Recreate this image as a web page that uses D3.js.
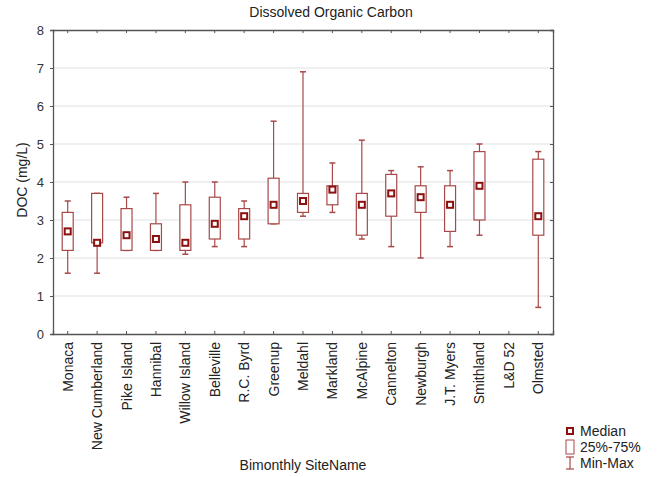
<!DOCTYPE html>
<html>
<head>
<meta charset="utf-8">
<script src="https://cdn.jsdelivr.net/npm/d3@7"></script>
<style>
  html, body { margin: 0; padding: 0; background: #fff; }
  svg { display: block; font-family: "Liberation Sans", Arial, sans-serif; }
</style>
</head>
<body>
<svg id="chart" width="659" height="477"></svg>
<script>
// Bimonthly DOC summary per site (mg/L); null = no samples
const sites = ["Monaca", "New Cumberland", "Pike Island", "Hannibal", "Willow Island",
  "Belleville", "R.C. Byrd", "Greenup", "Meldahl", "Markland", "McAlpine",
  "Cannelton", "Newburgh", "J.T. Myers", "Smithland", "L&D 52", "Olmsted"];
const minVals    = [1.6, 1.6, 2.2, 2.2, 2.1, 2.3, 2.3, 2.9, 3.1, 3.2, 2.5, 2.3, 2.0, 2.3, 2.6, null, 0.7];
const q1Vals     = [2.2, 2.4, 2.2, 2.2, 2.2, 2.5, 2.5, 2.9, 3.2, 3.4, 2.6, 3.1, 3.2, 2.7, 3.0, null, 2.6];
const medianVals = [2.7, 2.4, 2.6, 2.5, 2.4, 2.9, 3.1, 3.4, 3.5, 3.8, 3.4, 3.7, 3.6, 3.4, 3.9, null, 3.1];
const q3Vals     = [3.2, 3.7, 3.3, 2.9, 3.4, 3.6, 3.3, 4.1, 3.7, 3.9, 3.7, 4.2, 3.9, 3.9, 4.8, null, 4.6];
const maxVals    = [3.5, 3.7, 3.6, 3.7, 4.0, 4.0, 3.5, 5.6, 6.9, 4.5, 5.1, 4.3, 4.4, 4.3, 5.0, null, 4.8];
const yTicks = [0, 1, 2, 3, 4, 5, 6, 7, 8];
const legendItems = ["Median", "25%-75%", "Min-Max"];

const svg = d3.select("#chart");
const plotL = 53, plotR = 553, plotT = 30, plotB = 334;
const boxColor = "#a84848", whiskerColor = "#a84848", medColor = "#8b1010";

const x = d3.scaleBand().domain(sites).range([plotL, plotR]).padding(0);
const y = d3.scaleLinear().domain([0, 8]).range([plotB, plotT]);

// horizontal gridlines
svg.append("g").selectAll("line").data(yTicks.slice(1, -1)).join("line")
  .attr("x1", plotL).attr("x2", plotR)
  .attr("y1", d => y(d)).attr("y2", d => y(d))
  .attr("stroke", "#e2e2e2").attr("stroke-width", 1.2);

// axes
const axisStyle = g => {
  g.select(".domain").attr("stroke", "#555").attr("stroke-width", 1.3);
  g.selectAll(".tick line").attr("stroke", "#555");
};
svg.append("g").attr("transform", `translate(${plotL},0)`)
  .call(d3.axisLeft(y).tickValues(yTicks).tickSize(3).tickPadding(6).tickFormat(d3.format("d")))
  .call(axisStyle)
  .call(g => g.selectAll("text").attr("font-size", 13).attr("fill", "#333").attr("font-family", null));
svg.append("g").attr("transform", `translate(${plotR},0)`)
  .call(d3.axisLeft(y).tickValues(yTicks).tickSize(3).tickFormat(""))
  .call(axisStyle);
svg.append("g").attr("transform", `translate(0,${plotT})`)
  .call(d3.axisBottom(x).tickSize(3).tickFormat(""))
  .call(axisStyle);
svg.append("g").attr("transform", `translate(0,${plotB})`)
  .call(d3.axisTop(x).tickSize(3).tickFormat(""))
  .call(axisStyle);

// rotated site labels
svg.append("g").selectAll("text").data(sites).join("text")
  .attr("transform", d => `translate(${x(d) + x.bandwidth() / 2 + 5},${plotB + 8}) rotate(-90)`)
  .attr("text-anchor", "end")
  .attr("font-size", 14).attr("fill", "#222")
  .text(d => d);

// box plots
const rows = sites.map((s, i) => ({
  site: s, min: minVals[i], q1: q1Vals[i], med: medianVals[i], q3: q3Vals[i], max: maxVals[i]
})).filter(d => d.med !== null);

const bw = 11, cap = 6, ms = 6;
const g = svg.append("g");
const cx = d => x(d.site) + x.bandwidth() / 2;
g.selectAll(".wh").data(rows).join("line").attr("class", "wh")
  .attr("x1", cx).attr("x2", cx).attr("y1", d => y(d.max)).attr("y2", d => y(d.min))
  .attr("stroke", whiskerColor).attr("stroke-width", 1.2);
g.selectAll(".capT").data(rows).join("line").attr("class", "capT")
  .attr("x1", d => cx(d) - cap / 2).attr("x2", d => cx(d) + cap / 2)
  .attr("y1", d => y(d.max)).attr("y2", d => y(d.max))
  .attr("stroke", whiskerColor).attr("stroke-width", 1.5);
g.selectAll(".capB").data(rows).join("line").attr("class", "capB")
  .attr("x1", d => cx(d) - cap / 2).attr("x2", d => cx(d) + cap / 2)
  .attr("y1", d => y(d.min)).attr("y2", d => y(d.min))
  .attr("stroke", whiskerColor).attr("stroke-width", 1.5);
g.selectAll(".box").data(rows).join("rect").attr("class", "box")
  .attr("x", d => cx(d) - bw / 2).attr("width", bw)
  .attr("y", d => y(d.q3)).attr("height", d => Math.max(0.5, y(d.q1) - y(d.q3)))
  .attr("fill", "#fff").attr("stroke", boxColor).attr("stroke-width", 1.2);
g.selectAll(".med").data(rows).join("rect").attr("class", "med")
  .attr("x", d => cx(d) - ms / 2).attr("y", d => y(d.med) - ms / 2)
  .attr("width", ms).attr("height", ms)
  .attr("fill", "#fff").attr("stroke", medColor).attr("stroke-width", 2);

// titles
svg.append("text").attr("x", 331).attr("y", 17).attr("text-anchor", "middle")
  .attr("font-size", 14).attr("fill", "#222").text("Dissolved Organic Carbon");
svg.append("text").attr("transform", `translate(27,180) rotate(-90)`)
  .attr("text-anchor", "middle").attr("font-size", 14).attr("fill", "#222").text("DOC (mg/L)");
svg.append("text").attr("x", 303).attr("y", 470).attr("text-anchor", "middle")
  .attr("font-size", 14).attr("fill", "#222").text("Bimonthly SiteName");

// legend
const lg = svg.append("g").attr("transform", "translate(570,0)");
const ly = [431, 447, 463];
lg.append("rect").attr("x", -3).attr("y", ly[0] - 3).attr("width", 6).attr("height", 6)
  .attr("fill", "#fff").attr("stroke", medColor).attr("stroke-width", 2);
lg.append("rect").attr("x", -4).attr("y", ly[1] - 7).attr("width", 8).attr("height", 14)
  .attr("fill", "#fff").attr("stroke", boxColor).attr("stroke-width", 1);
lg.append("line").attr("x1", 0).attr("x2", 0).attr("y1", ly[2] - 6).attr("y2", ly[2] + 6)
  .attr("stroke", whiskerColor).attr("stroke-width", 1.2);
lg.append("line").attr("x1", -4).attr("x2", 4).attr("y1", ly[2] - 6).attr("y2", ly[2] - 6)
  .attr("stroke", whiskerColor).attr("stroke-width", 1.2);
lg.append("line").attr("x1", -4).attr("x2", 4).attr("y1", ly[2] + 6).attr("y2", ly[2] + 6)
  .attr("stroke", whiskerColor).attr("stroke-width", 1.2);
lg.selectAll("text.lt").data(legendItems).join("text").attr("class", "lt")
  .attr("x", 10).attr("y", (d, i) => ly[i] + 5)
  .attr("font-size", 14).attr("fill", "#222").text(d => d);
</script>
</body>
</html>
